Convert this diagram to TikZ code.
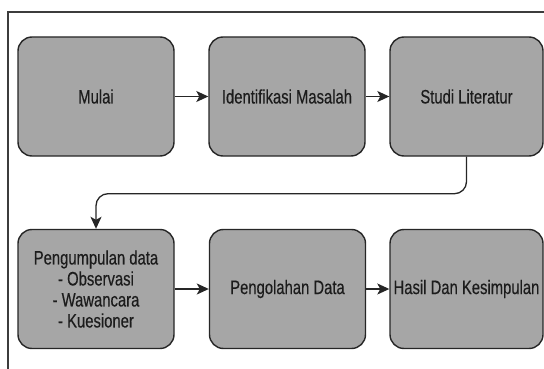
\documentclass[tikz,border=0pt]{standalone}
\usepackage{fontspec}
\setmainfont{Liberation Sans}[FakeStretch=0.76, FakeBold=0.4]
\usepackage{xcolor}
\usepackage{tikz}
\usetikzlibrary{arrows.meta,positioning,calc}

\definecolor{boxgray}{RGB}{166,166,166}
\definecolor{linegray}{RGB}{38,38,38}
\definecolor{textgray}{RGB}{28,28,28}

\begin{document}
\begin{tikzpicture}[x=1pt, y=-1pt,
    proses/.style={rectangle, rounded corners=14pt, draw=linegray, line width=1.4pt, fill=boxgray,
        minimum width=156pt, minimum height=119pt, align=center, inner sep=1pt,
        text=textgray, font=\fontsize{19.5}{21}\selectfont},
    arrow/.style={-{Stealth[length=12pt, width=11pt, inset=3pt]}, line width=1.3pt, draw=linegray}
]
\useasboundingbox (0,0) rectangle (544,369);

% Frame
\draw[line width=1.4pt, draw=linegray!90] (8,369) -- (8,12) -- (544,12);

% Steps
\node[proses] (mulai) at (96,96.5) {Mulai};
\node[proses] (identifikasi) at (287,96.5) {Identifikasi Masalah};
\node[proses, minimum width=153pt] (studi) at (466.5,96.5) {Studi Literatur};
\node[proses] (pengumpulan) at (96,289) {Pengumpulan data\\- Observasi\\- Wawancara\\- Kuesioner};
\node[proses] (pengolahan) at (287.5,289) {Pengolahan Data};
\node[proses, minimum width=153pt] (hasil) at (466.5,289) {Hasil Dan Kesimpulan};

% Flow
\draw[arrow] (mulai) -- (identifikasi);
\draw[arrow] (identifikasi) -- (studi);
\draw[arrow, rounded corners=12pt] (studi.south) -- ++(0,37) -| (pengumpulan.north);
\draw[arrow] (pengumpulan) -- (pengolahan);
\draw[arrow] (pengolahan) -- (hasil);

\end{tikzpicture}
\end{document}
